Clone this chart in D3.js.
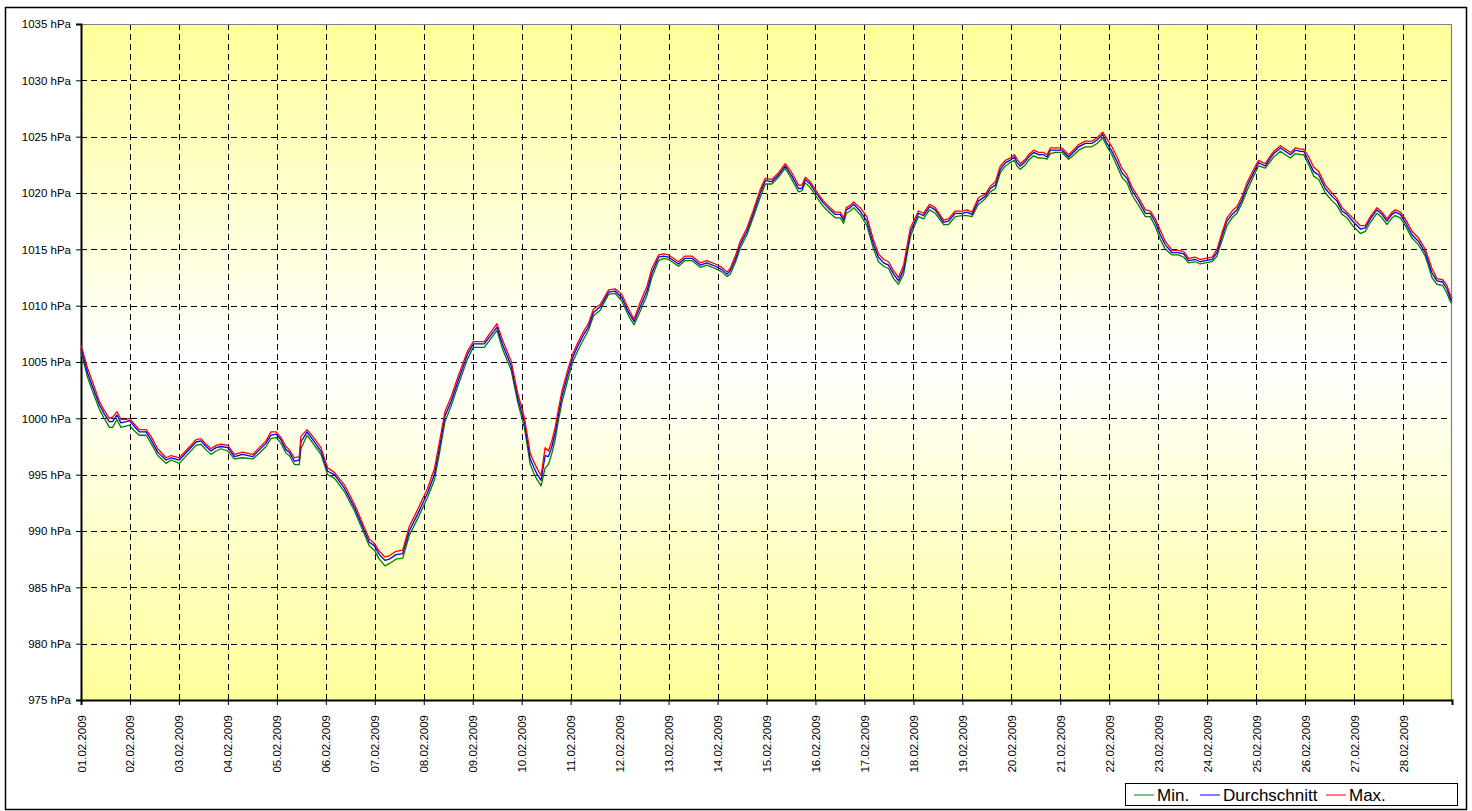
<!DOCTYPE html>
<html><head><meta charset="utf-8">
<script src="https://cdn.jsdelivr.net/npm/d3@7"></script>
<style>body{margin:0;background:#fff}svg{display:block;font-family:Arial,"Liberation Sans",sans-serif}</style>
</head><body><svg id="c" width="1472" height="811"></svg>
<script>
const dayLabels = ["01.02.2009","02.02.2009","03.02.2009","04.02.2009","05.02.2009","06.02.2009","07.02.2009","08.02.2009","09.02.2009","10.02.2009","11.02.2009","12.02.2009","13.02.2009","14.02.2009","15.02.2009","16.02.2009","17.02.2009","18.02.2009","19.02.2009","20.02.2009","21.02.2009","22.02.2009","23.02.2009","24.02.2009","25.02.2009","26.02.2009","27.02.2009","28.02.2009"];
const yTicks = [975,980,985,990,995,1000,1005,1010,1015,1020,1025,1030,1035];
const seriesNames = ["Min.","Durchschnitt","Max."];
const seriesColors = ["#008000","#0000FF","#FF0000"];

// hours since 01.02.2009 00:00
const hours = [0,3.3,6.5,9,11.4,13.9,15.5,17.6,19.6,22.1,23.7,26.1,28.6,31.9,34.3,37.6,41.7,44.1,48.2,52.3,56.4,58.8,61.3,63.7,66.2,68.6,71.9,75.2,79.2,84.2,87.4,90.7,93.1,95.6,98,100.5,102.1,104.6,107,107.8,110.8,113.6,117.6,120.9,124.2,129.1,134,137.3,141.3,143.8,146.2,149,151.1,154.4,157.7,160.9,165,169.9,173.2,175.7,178.4,181.4,184.6,189.5,192.3,197.7,200.2,203.9,206.7,210.8,214.1,217.3,220.2,221.8,223.4,225.5,227.5,229.1,230.8,232.4,234,235.7,238.9,241,243.5,246.3,248.7,251.2,254.5,258.6,261.8,265.1,268.4,271.1,274.1,277.4,279.8,283.1,285.5,288,292.9,296.1,299.4,303.5,306.8,310.9,314.1,316.6,318.2,320.7,323.1,326.4,329.6,332.9,335.4,338.6,341.9,345.2,348.4,351.7,353.4,355,357.4,360.7,363.9,367.2,369.7,372.1,373.8,375.1,377,378.7,381.9,385.2,388.5,390.9,393.4,395.8,398.3,400.7,403.2,406.5,408.1,410.5,413,415.9,418.7,422.8,425.2,428.5,431.8,434.3,436.7,439.9,443.3,445.7,448.2,450.6,453.1,455.5,457.5,458.8,460.4,462.9,464.5,466.9,469.4,471.8,473.5,475.1,477.6,480.8,484.1,487.4,489,492.3,495.5,498,500.8,502.9,505.3,507.8,510.2,512.7,515.2,518.4,521.7,524.1,526.6,529,531.5,534.8,538,540.5,542.9,546.2,548.6,551.1,554.4,556.8,559.3,561.7,564.2,566.6,569.1,571.5,574.8,577.2,580.5,583,584.6,587.9,590.3,592.8,595.2,597.7,599.3,601.8,604.2,606.7,609.9,613.2,615.6,618.1,620.5,623.8,627.1,629.5,632,635.2,637.7,640.1,642.6,644.2,646.7,649.1,652.4,655.6,658.9,662.2,664.6,667.4,669.5,671.3,672];

const avgValues = [1006.2,1004.0,1002.4,1001.2,1000.4,999.7,999.7,1000.3,999.6,999.7,999.8,999.3,998.8,998.8,998.1,997.0,996.3,996.5,996.3,997.1,997.9,998.0,997.5,997.1,997.4,997.5,997.4,996.6,996.8,996.6,997.2,997.8,998.5,998.6,998.1,997.2,997.0,996.2,996.3,997.9,998.8,998.1,997.1,995.3,995.0,993.8,992.1,990.7,989.0,988.7,987.9,987.4,987.5,987.9,988.0,990.0,991.5,993.4,995.0,997.4,1000.2,1001.5,1003.2,1005.7,1006.6,1006.6,1007.2,1008.1,1006.5,1004.7,1001.8,999.7,996.4,995.7,995.1,994.5,996.7,996.6,997.5,998.7,1000.3,1001.9,1004.1,1005.4,1006.4,1007.4,1008.1,1009.4,1009.9,1011.2,1011.3,1010.7,1009.4,1008.6,1009.9,1011.3,1012.9,1014.3,1014.4,1014.3,1013.7,1014.2,1014.2,1013.6,1013.8,1013.5,1013.2,1012.8,1013.1,1014.1,1015.4,1016.6,1018.2,1020.0,1021.1,1021.0,1021.6,1022.4,1021.5,1020.4,1020.4,1021.2,1020.8,1019.9,1019.1,1018.5,1018.1,1018.1,1017.6,1018.5,1018.7,1019.0,1018.4,1017.5,1015.4,1014.3,1013.8,1013.6,1012.8,1012.2,1013.2,1016.5,1017.2,1018.2,1018.0,1018.8,1018.5,1017.4,1017.5,1018.2,1018.2,1018.3,1018.1,1019.3,1019.7,1020.4,1020.7,1022.1,1022.7,1022.9,1023.2,1022.7,1022.4,1022.8,1023.2,1023.6,1023.4,1023.4,1023.2,1023.8,1023.8,1023.8,1023.2,1023.8,1024.1,1024.4,1024.4,1024.7,1025.2,1024.4,1023.7,1022.8,1021.8,1021.3,1020.2,1019.3,1018.2,1018.2,1017.4,1016.3,1015.4,1014.7,1014.7,1014.6,1014.0,1014.1,1013.9,1014.0,1014.1,1014.7,1016.2,1017.5,1018.1,1018.5,1019.4,1020.6,1021.8,1022.7,1022.4,1023.1,1023.5,1024.0,1023.7,1023.4,1023.8,1023.7,1023.7,1022.8,1021.9,1021.6,1020.4,1019.7,1019.3,1018.4,1018.1,1017.4,1016.8,1016.9,1017.7,1018.5,1018.1,1017.5,1018.1,1018.3,1018.1,1017.4,1016.3,1015.7,1014.7,1012.9,1012.2,1012.1,1011.5,1010.6,1010.4];

const maxValues = [1006.5,1004.4,1002.8,1001.5,1000.7,1000.0,1000.1,1000.6,999.9,999.9,1000.0,999.5,999.0,999.0,998.4,997.3,996.5,996.7,996.5,997.3,998.1,998.2,997.7,997.3,997.6,997.7,997.6,996.8,997.0,996.8,997.4,998.0,998.8,998.8,998.3,997.5,997.2,996.5,996.6,998.4,999.0,998.4,997.4,995.6,995.2,994.1,992.4,991.0,989.3,988.9,988.2,987.7,987.8,988.2,988.3,990.4,991.9,993.8,995.5,997.9,1000.6,1001.9,1003.6,1006.0,1006.8,1006.8,1007.5,1008.4,1006.9,1005.1,1002.2,1000.1,996.9,996.2,995.6,994.9,997.4,997.1,998.0,999.2,1000.8,1002.4,1004.5,1005.7,1006.7,1007.7,1008.4,1009.7,1010.1,1011.4,1011.5,1011.0,1009.7,1008.8,1010.3,1011.7,1013.3,1014.5,1014.6,1014.5,1013.9,1014.4,1014.4,1013.8,1014.0,1013.7,1013.4,1013.0,1013.3,1014.4,1015.7,1016.9,1018.5,1020.3,1021.3,1021.2,1021.8,1022.6,1021.8,1020.7,1020.7,1021.4,1021.0,1020.1,1019.3,1018.7,1018.3,1018.3,1017.8,1018.7,1018.9,1019.2,1018.7,1017.9,1015.8,1014.6,1014.1,1013.9,1013.1,1012.5,1013.6,1016.9,1017.5,1018.4,1018.2,1019.0,1018.7,1017.6,1017.7,1018.4,1018.4,1018.5,1018.3,1019.6,1019.9,1020.6,1021.0,1022.4,1022.9,1023.1,1023.4,1023.0,1022.6,1023.0,1023.4,1023.8,1023.6,1023.6,1023.4,1024.0,1024.0,1024.0,1023.4,1024.0,1024.3,1024.6,1024.6,1024.9,1025.4,1024.8,1024.1,1023.2,1022.2,1021.6,1020.5,1019.6,1018.5,1018.4,1017.7,1016.7,1015.7,1014.9,1014.9,1014.8,1014.2,1014.3,1014.1,1014.2,1014.3,1015.0,1016.5,1017.8,1018.4,1018.8,1019.7,1020.9,1022.1,1022.9,1022.6,1023.3,1023.7,1024.2,1023.9,1023.6,1024.0,1023.9,1023.9,1023.2,1022.3,1021.9,1020.7,1020.0,1019.5,1018.7,1018.3,1017.7,1017.1,1017.1,1017.9,1018.7,1018.3,1017.7,1018.3,1018.5,1018.3,1017.7,1016.6,1016.0,1015.0,1013.3,1012.4,1012.3,1011.8,1010.9,1010.6];

const minValues = [1005.9,1003.6,1002.0,1000.8,1000.0,999.2,999.2,999.9,999.2,999.3,999.4,998.9,998.5,998.5,997.8,996.7,996.0,996.3,996.0,996.8,997.6,997.7,997.2,996.8,997.1,997.3,997.1,996.4,996.5,996.4,996.9,997.5,998.2,998.3,997.8,996.9,996.7,995.9,995.9,997.3,998.5,997.8,996.8,995.0,994.7,993.5,991.8,990.4,988.7,988.3,987.5,986.9,987.1,987.5,987.6,989.6,991.1,993.0,994.5,996.9,999.7,1001.1,1002.8,1005.3,1006.3,1006.3,1006.9,1007.8,1006.1,1004.3,1001.4,999.2,995.9,995.2,994.6,994.0,995.6,995.9,996.9,998.1,999.8,1001.4,1003.6,1005.0,1006.0,1007.0,1007.8,1009.1,1009.6,1011.0,1011.1,1010.4,1009.1,1008.3,1009.5,1010.9,1012.5,1014.0,1014.2,1014.1,1013.5,1014.0,1014.0,1013.4,1013.6,1013.3,1013.0,1012.6,1012.8,1013.8,1015.1,1016.3,1017.9,1019.6,1020.8,1020.8,1021.4,1022.2,1021.2,1020.1,1020.2,1020.9,1020.5,1019.6,1018.8,1018.2,1017.8,1017.8,1017.3,1018.2,1018.4,1018.7,1018.1,1017.1,1015.0,1013.9,1013.5,1013.3,1012.4,1011.9,1012.8,1016.1,1016.9,1017.9,1017.7,1018.5,1018.2,1017.2,1017.2,1017.9,1018.0,1018.0,1017.9,1019.0,1019.5,1020.1,1020.4,1021.8,1022.4,1022.7,1022.9,1022.4,1022.1,1022.5,1022.9,1023.3,1023.1,1023.1,1023.0,1023.5,1023.6,1023.6,1023.0,1023.5,1023.8,1024.1,1024.1,1024.4,1024.9,1024.1,1023.4,1022.4,1021.4,1020.9,1019.8,1018.9,1017.9,1017.9,1017.0,1015.9,1015.0,1014.5,1014.5,1014.3,1013.8,1013.9,1013.7,1013.8,1013.9,1014.4,1015.8,1017.1,1017.8,1018.2,1019.1,1020.2,1021.5,1022.4,1022.2,1022.8,1023.2,1023.7,1023.4,1023.1,1023.5,1023.4,1023.4,1022.5,1021.5,1021.2,1020.0,1019.3,1018.9,1018.1,1017.8,1017.0,1016.4,1016.6,1017.4,1018.2,1017.8,1017.2,1017.8,1018.0,1017.8,1017.1,1016.0,1015.4,1014.4,1012.5,1011.9,1011.8,1011.1,1010.3,1010.2];

const svg = d3.select("#c");
const L = 81, R = 1452, T = 24, B = 700;
const x = d3.scaleLinear().domain([0, dayLabels.length * 24]).range([L, R]);
const y = d3.scaleLinear().domain([975, 1035]).range([B, T]);

// outer frame
svg.append("rect").attr("x", 5.5).attr("y", 7.5).attr("width", 1461).attr("height", 802)
  .attr("fill", "#fff").attr("stroke", "#000").attr("stroke-width", 1.5);

// plot background gradient
const defs = svg.append("defs");
const grad = defs.append("linearGradient").attr("id", "bg").attr("x1", 0).attr("y1", 0).attr("x2", 0).attr("y2", 1);
grad.append("stop").attr("offset", "0%").attr("stop-color", "#FFFF99");
grad.append("stop").attr("offset", "50%").attr("stop-color", "#FFFFFF");
grad.append("stop").attr("offset", "100%").attr("stop-color", "#FFFF99");
svg.append("rect").attr("x", L).attr("y", T).attr("width", R - L).attr("height", B - T).attr("fill", "url(#bg)");

// gridlines
const grid = svg.append("g").attr("stroke", "#000").attr("stroke-width", 1).attr("stroke-dasharray", "6,4").attr("shape-rendering", "crispEdges");
grid.selectAll("line.h").data(yTicks.filter(v => v > 975 && v < 1035)).join("line")
  .attr("x1", L).attr("x2", R).attr("y1", d => Math.round(y(d)) + 0.5).attr("y2", d => Math.round(y(d)) + 0.5);
grid.selectAll("line.v").data(dayLabels.slice(1)).join("line")
  .attr("y1", T).attr("y2", B).attr("x1", (d, i) => Math.round(x((i + 1) * 24)) + 0.5).attr("x2", (d, i) => Math.round(x((i + 1) * 24)) + 0.5);

// plot border top/right
svg.append("path").attr("d", `M${L},${T + 0.5}H${R - 0.5}V${B}`).attr("fill", "none").attr("stroke", "#808080").attr("stroke-width", 1.2);

// axes
const yAxis = d3.axisLeft(y).tickValues(yTicks).tickSize(5).tickPadding(5).tickFormat(d => d + " hPa");
const gy = svg.append("g").attr("transform", `translate(${L},0)`).call(yAxis);
gy.select(".domain").attr("stroke-width", 2);
gy.selectAll("text").attr("font-size", "11.5px").attr("font-family", "Arial, 'Liberation Sans', sans-serif").attr("fill", "#000");

const xTickVals = d3.range(dayLabels.length + 1).map(i => i * 24);
const xAxis = d3.axisBottom(x).tickValues(xTickVals).tickSize(5).tickFormat(d => dayLabels[d / 24] || "");
const gx = svg.append("g").attr("transform", `translate(0,${B})`).call(xAxis);
gx.select(".domain").attr("stroke-width", 2);
gx.selectAll("text").attr("font-size", "11.5px").attr("font-family", "Arial, 'Liberation Sans', sans-serif").attr("fill", "#000")
  .attr("text-anchor", "end").attr("transform", "translate(4,15) rotate(-90)").attr("x", 0).attr("y", 0).attr("dy", 0);

// lines
const seriesData = [minValues, avgValues, maxValues];
const line = d3.line().x((d, i) => x(hours[i])).y(d => y(d));
svg.append("g").selectAll("path").data(seriesData).join("path")
  .attr("d", d => line(d)).attr("fill", "none")
  .attr("stroke", (d, i) => seriesColors[i]).attr("stroke-width", 1.3).attr("stroke-linejoin", "round");

// legend
const lg = svg.append("g");
lg.append("rect").attr("x", 1125.5).attr("y", 783.5).attr("width", 332).attr("height", 22).attr("fill", "#fff").attr("stroke", "#000");
const legX = [1134, 1200, 1326];
seriesNames.forEach((n, i) => {
  lg.append("line").attr("x1", legX[i]).attr("x2", legX[i] + 20).attr("y1", 795).attr("y2", 795).attr("stroke", seriesColors[i]).attr("stroke-width", 1);
  lg.append("text").attr("x", legX[i] + 23).attr("y", 801).attr("font-size", "17px").attr("fill", "#000").text(n);
});
</script></body></html>
